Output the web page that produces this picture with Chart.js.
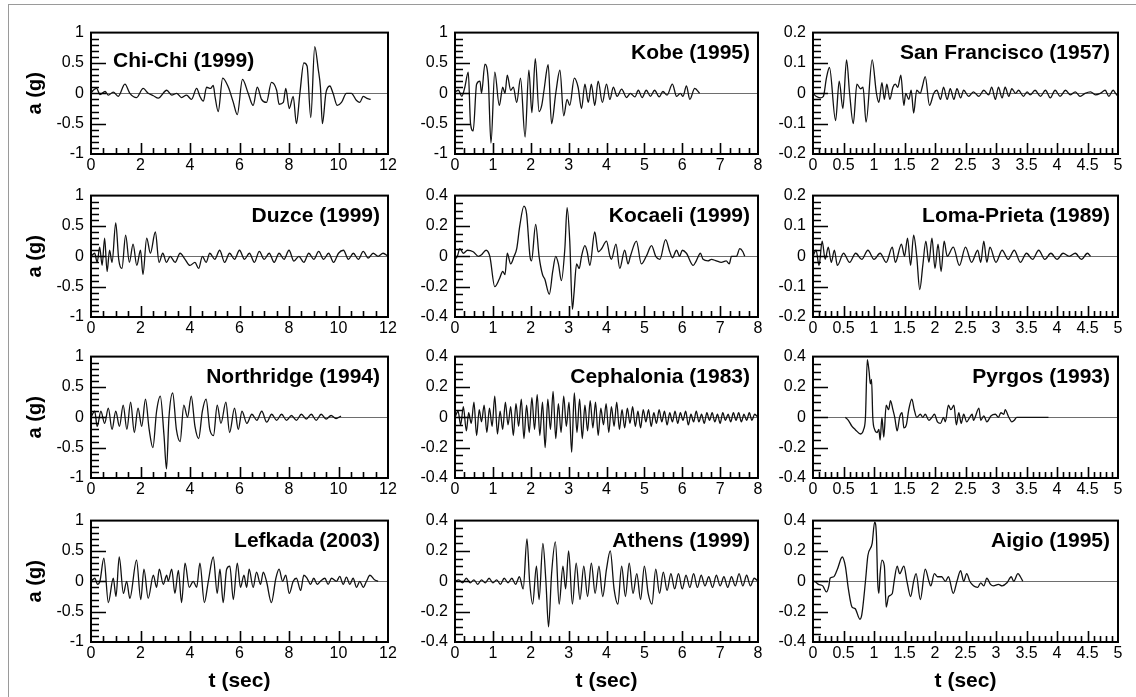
<!DOCTYPE html>
<html>
<head>
<meta charset="utf-8">
<script src="https://cdn.jsdelivr.net/npm/chart.js@4.4.1/dist/chart.umd.min.js"></script>
<style>
  html, body { margin: 0; padding: 0; background: #fff; }
  body { width: 1136px; height: 697px; position: relative; overflow: hidden; }
  #frame { position: absolute; left: 8px; top: 4px; width: 1140px; height: 720px;
           border: 1px solid #9a9a9a; box-sizing: border-box; }
  canvas { position: absolute; }
</style>
</head>
<body>
<div id="frame"></div>
<script>
/* Accelerograms, a (g) against t (sec) as [t, a] pairs */

const chiChi = [[0,0],[0.09,0.05],[0.23,0.08],[0.36,-0.02],[0.57,0.03],[0.7,-0.03],[0.9,0.02],[1.1,-0.05],[1.37,0.15],[1.57,0],[1.84,-0.07],[2.11,0.08],[2.31,0],[2.52,-0.04],[2.72,-0.08],[3.06,0.05],[3.26,-0.03],[3.46,0],[3.66,-0.07],[3.86,-0.03],[4.06,-0.1],[4.27,0.08],[4.4,-0.05],[4.54,-0.13],[4.67,0.1],[4.83,0.08],[4.94,0.13],[5.01,-0.05],[5.14,-0.3],[5.32,0.25],[5.55,0.1],[5.75,-0.15],[5.91,-0.35],[6.12,0.23],[6.35,0],[6.55,-0.2],[6.72,0.1],[6.89,-0.1],[7.09,-0.15],[7.29,0.18],[7.5,0.05],[7.6,-0.18],[7.77,-0.15],[7.87,0.08],[8.01,-0.25],[8.17,-0.05],[8.3,-0.5],[8.44,0],[8.6,0.5],[8.73,0.45],[8.88,-0.4],[9.04,0.77],[9.18,0.4],[9.27,0.1],[9.35,-0.5],[9.49,0],[9.65,0.12],[9.78,0],[9.95,-0.2],[10.12,-0.15],[10.32,0],[10.52,0],[10.73,-0.12],[10.86,-0.15],[11.0,-0.05],[11.13,-0.08],[11.3,-0.1]];

const kobe = [[0,0.02],[0.09,0.05],[0.18,-0.05],[0.26,0.1],[0.35,0.35],[0.41,-0.5],[0.48,-0.62],[0.57,0.15],[0.66,0.2],[0.7,0],[0.79,0.48],[0.88,0.2],[0.95,-0.82],[1.05,0.35],[1.17,-0.2],[1.26,0.1],[1.32,0],[1.38,0.3],[1.47,0.05],[1.54,0.1],[1.63,-0.15],[1.73,0.25],[1.85,-0.72],[1.95,0.38],[2.03,-0.32],[2.12,0.57],[2.22,-0.3],[2.29,-0.2],[2.35,0.05],[2.46,0.47],[2.55,-0.5],[2.66,0],[2.77,0.38],[2.87,-0.37],[2.96,-0.1],[3.03,-0.2],[3.15,0.25],[3.25,0.1],[3.34,-0.25],[3.43,0.15],[3.52,-0.15],[3.6,0.15],[3.69,-0.2],[3.78,0.2],[3.89,-0.15],[4.0,0.15],[4.09,-0.1],[4.18,0.1],[4.28,-0.05],[4.4,0.07],[4.53,-0.07],[4.63,0],[4.75,-0.06],[4.84,0.05],[4.94,-0.07],[5.05,0.05],[5.16,-0.05],[5.27,0.05],[5.39,-0.06],[5.49,0.03],[5.6,-0.03],[5.74,0.15],[5.85,-0.05],[5.95,0],[6.02,-0.05],[6.11,0.12],[6.2,-0.1],[6.33,0.08],[6.46,0]];

const sanFrancisco = [[0,0],[0.05,-0.01],[0.12,-0.015],[0.17,-0.01],[0.22,0.05],[0.27,0.085],[0.37,-0.09],[0.43,0.04],[0.49,-0.05],[0.55,0.11],[0.6,0],[0.66,-0.1],[0.72,0.03],[0.78,0.015],[0.82,0.02],[0.87,-0.095],[0.97,0.11],[1.04,0],[1.08,-0.03],[1.13,0.035],[1.17,-0.02],[1.21,0.03],[1.26,-0.02],[1.31,0.02],[1.35,0.03],[1.39,0.02],[1.44,0.06],[1.49,-0.04],[1.52,0],[1.57,-0.02],[1.61,0.01],[1.65,-0.065],[1.7,0.01],[1.76,0],[1.79,0.02],[1.84,0.055],[1.91,-0.04],[1.98,0],[2.03,0.01],[2.09,-0.02],[2.14,0.02],[2.2,-0.02],[2.25,0.015],[2.31,-0.02],[2.36,0.015],[2.42,-0.015],[2.47,0.01],[2.55,-0.01],[2.63,0.005],[2.72,-0.01],[2.8,0.01],[2.88,-0.005],[2.93,0.02],[2.99,-0.02],[3.04,0.02],[3.1,-0.015],[3.15,0.02],[3.21,-0.01],[3.26,0.015],[3.32,0],[3.37,0.01],[3.45,-0.01],[3.51,0.005],[3.56,-0.005],[3.64,0.01],[3.73,-0.01],[3.81,0.01],[3.89,-0.015],[3.97,0.01],[4.05,-0.01],[4.14,0.01],[4.22,-0.005],[4.3,0.005],[4.38,-0.01],[4.46,0],[4.55,0.005],[4.63,-0.005],[4.71,0],[4.79,0.01],[4.85,-0.01],[4.92,0.01],[4.96,0],[5.0,-0.01]];

const duzce = [[0,0],[0.15,0.05],[0.25,-0.1],[0.35,0.15],[0.45,-0.15],[0.55,0.3],[0.65,-0.25],[0.75,0.1],[0.85,-0.1],[1.0,0.55],[1.12,-0.05],[1.25,-0.2],[1.4,0.35],[1.55,-0.1],[1.7,0.2],[1.85,-0.15],[2.0,0.1],[2.1,-0.3],[2.25,0.3],[2.4,0.05],[2.6,0.4],[2.75,-0.1],[2.9,0.05],[3.05,-0.1],[3.2,0],[3.4,-0.1],[3.6,0.05],[3.8,-0.05],[4.0,-0.15],[4.2,-0.1],[4.35,-0.2],[4.5,0],[4.65,-0.1],[4.8,0.05],[5.0,-0.05],[5.2,0.1],[5.4,-0.1],[5.6,0.05],[5.8,-0.05],[6.0,0.1],[6.2,-0.05],[6.4,0.05],[6.6,-0.1],[6.8,0.08],[7.0,-0.05],[7.2,0.05],[7.4,-0.1],[7.6,0.05],[7.8,-0.05],[8.0,0.1],[8.2,-0.08],[8.4,0],[8.6,-0.1],[8.8,0.05],[9.0,-0.05],[9.2,0.08],[9.4,-0.05],[9.6,0.05],[9.8,-0.1],[10.0,0.05],[10.2,0.1],[10.4,-0.05],[10.6,0.05],[10.8,-0.05],[11.0,0.08],[11.2,-0.03],[11.4,0.05],[11.6,0],[11.8,0.05],[12,0]];

const kocaeli = [[0,-0.02],[0.06,0],[0.13,0.05],[0.22,0.02],[0.33,0.04],[0.48,0.03],[0.62,0],[0.7,0.01],[0.82,0.04],[0.92,0],[1.05,-0.2],[1.17,-0.15],[1.26,-0.1],[1.32,-0.12],[1.38,0.02],[1.47,-0.05],[1.56,0],[1.63,0.05],[1.71,0.2],[1.82,0.33],[1.89,0.28],[1.98,0],[2.02,-0.03],[2.13,0.21],[2.22,0],[2.31,-0.12],[2.37,-0.15],[2.49,-0.25],[2.58,-0.1],[2.66,0],[2.73,-0.05],[2.81,-0.16],[2.9,0.05],[2.96,0.32],[3.03,0.1],[3.1,-0.35],[3.14,-0.25],[3.21,-0.05],[3.28,-0.08],[3.34,0],[3.43,0.07],[3.49,0.03],[3.56,-0.06],[3.69,0.16],[3.78,0.03],[3.87,0.05],[4.0,0.1],[4.09,0],[4.13,-0.02],[4.25,0.08],[4.35,-0.08],[4.48,0.04],[4.57,-0.05],[4.63,0],[4.79,0.1],[4.92,-0.05],[5.05,0],[5.19,0.07],[5.3,0],[5.41,-0.02],[5.56,0.11],[5.67,0.03],[5.74,-0.01],[5.85,0.04],[5.93,0],[6.0,0.04],[6.11,0.02],[6.29,-0.06],[6.37,-0.03],[6.48,0.02],[6.55,-0.02],[6.68,-0.03],[6.77,-0.02],[6.9,-0.03],[7.03,-0.04],[7.16,-0.03],[7.24,-0.05],[7.3,0],[7.43,0],[7.52,0.05],[7.6,0.03],[7.65,0]];

const lomaPrieta = [[0,0],[0.05,0.02],[0.1,-0.03],[0.15,0.05],[0.2,-0.01],[0.25,0.03],[0.3,-0.02],[0.35,0.02],[0.4,-0.03],[0.5,0.01],[0.6,-0.02],[0.7,0.01],[0.8,-0.01],[0.9,0.02],[1.0,-0.01],[1.1,0.01],[1.2,-0.02],[1.3,0.03],[1.35,-0.02],[1.45,0.04],[1.5,0],[1.55,0.06],[1.6,-0.03],[1.65,0.07],[1.7,0],[1.75,-0.11],[1.8,-0.03],[1.85,0.05],[1.9,-0.02],[1.95,0.06],[2.0,-0.04],[2.05,0.04],[2.1,-0.05],[2.15,0.05],[2.2,0],[2.3,0.03],[2.4,-0.03],[2.5,0.03],[2.6,-0.02],[2.7,0.02],[2.75,-0.02],[2.8,0.05],[2.85,-0.02],[2.9,0.03],[3.0,-0.02],[3.1,0.02],[3.2,-0.01],[3.3,0.02],[3.4,-0.02],[3.5,0.01],[3.6,-0.01],[3.7,0.02],[3.8,-0.01],[3.9,0.01],[4.0,-0.01],[4.1,0.01],[4.2,0],[4.3,0.01],[4.4,-0.01],[4.5,0.01],[4.55,0]];

const northridge = [[0,0],[0.15,0.1],[0.25,-0.15],[0.4,0.1],[0.55,-0.1],[0.7,0.15],[0.85,-0.2],[1.0,0.1],[1.15,-0.15],[1.3,0.2],[1.45,-0.2],[1.6,0.25],[1.75,-0.25],[1.9,0.15],[2.05,-0.15],[2.2,0.3],[2.35,-0.2],[2.5,-0.5],[2.65,0.1],[2.8,0.35],[2.95,-0.3],[3.05,-0.85],[3.15,0],[3.3,0.4],[3.45,-0.2],[3.6,-0.4],[3.75,0.2],[3.9,0],[4.05,0.35],[4.2,-0.15],[4.35,-0.35],[4.5,0.1],[4.65,0.3],[4.8,-0.2],[4.95,-0.3],[5.1,0.2],[5.25,-0.1],[5.45,0.25],[5.6,-0.25],[5.8,0.15],[5.95,-0.2],[6.1,0.1],[6.3,-0.1],[6.5,0.05],[6.7,-0.05],[6.9,0.1],[7.1,-0.08],[7.3,0.05],[7.5,-0.05],[7.7,0.05],[7.9,-0.05],[8.1,0.03],[8.3,-0.05],[8.5,0.05],[8.7,-0.03],[8.9,0.05],[9.1,-0.05],[9.3,0.05],[9.5,-0.03],[9.7,0.03],[9.9,-0.02],[10.1,0.02]];

const cephalonia = [[0,0],[0.08,0.04],[0.15,-0.05],[0.22,0.07],[0.3,-0.09],[0.36,0.03],[0.43,-0.04],[0.5,0.1],[0.57,-0.12],[0.64,0.05],[0.7,-0.03],[0.77,0.08],[0.84,-0.1],[0.91,0.06],[0.98,-0.06],[1.05,0.14],[1.12,-0.11],[1.19,0.04],[1.26,-0.08],[1.33,0.1],[1.4,-0.05],[1.47,0.07],[1.54,-0.12],[1.61,0.09],[1.68,-0.06],[1.75,0.12],[1.82,-0.14],[1.89,0.08],[1.96,-0.1],[2.03,0.13],[2.1,-0.08],[2.17,0.15],[2.24,-0.12],[2.31,0.1],[2.38,-0.2],[2.45,0.12],[2.52,-0.08],[2.59,0.17],[2.66,-0.14],[2.73,0.09],[2.8,-0.1],[2.87,0.14],[2.94,-0.06],[3.01,0.1],[3.08,-0.23],[3.15,0.16],[3.22,-0.1],[3.29,0.12],[3.36,-0.14],[3.43,0.08],[3.5,-0.09],[3.57,0.11],[3.64,-0.07],[3.71,0.1],[3.78,-0.12],[3.85,0.06],[3.92,-0.05],[3.99,0.09],[4.06,-0.1],[4.13,0.07],[4.2,-0.06],[4.27,0.1],[4.34,-0.08],[4.41,0.05],[4.48,-0.07],[4.55,0.06],[4.62,-0.04],[4.69,0.07],[4.76,-0.06],[4.83,0.04],[4.9,-0.07],[4.97,0.05],[5.04,-0.03],[5.11,0.05],[5.18,-0.06],[5.25,0.03],[5.32,-0.04],[5.39,0.05],[5.46,-0.03],[5.53,0.04],[5.6,-0.05],[5.67,0.03],[5.74,-0.03],[5.81,0.04],[5.88,-0.04],[5.95,0.03],[6.02,-0.02],[6.09,0.04],[6.16,-0.05],[6.23,0.02],[6.3,-0.03],[6.37,0.04],[6.44,-0.03],[6.51,0.02],[6.58,-0.04],[6.65,0.03],[6.72,-0.02],[6.79,0.03],[6.86,-0.03],[6.93,0.02],[7.0,-0.04],[7.07,0.03],[7.14,-0.02],[7.21,0.02],[7.28,-0.03],[7.35,0.03],[7.42,-0.02],[7.49,0.03],[7.56,-0.03],[7.63,0.02],[7.7,-0.02],[7.77,0.03],[7.84,-0.02],[7.91,0.02],[8.0,0]];

const pyrgos = [[0.53,0],[0.58,-0.02],[0.64,-0.06],[0.69,-0.08],[0.78,-0.11],[0.83,-0.08],[0.86,0],[0.89,0.38],[0.92,0.3],[0.94,0.22],[0.96,0.25],[0.98,0],[1.01,-0.08],[1.05,-0.1],[1.08,-0.08],[1.1,-0.15],[1.13,0],[1.16,-0.13],[1.2,0.08],[1.24,0.05],[1.27,0.11],[1.31,0.05],[1.34,0],[1.38,-0.09],[1.42,0],[1.46,0.03],[1.49,-0.07],[1.53,-0.05],[1.57,0.05],[1.62,0.12],[1.66,0.05],[1.7,0],[1.76,0.02],[1.8,0],[1.84,0.02],[1.9,-0.02],[1.95,0],[1.99,0.02],[2.04,-0.03],[2.09,-0.04],[2.14,0],[2.17,-0.03],[2.22,0.08],[2.26,0.05],[2.31,0.08],[2.35,-0.05],[2.39,0.03],[2.43,-0.04],[2.47,0.02],[2.52,-0.03],[2.57,0],[2.61,0.02],[2.63,-0.02],[2.72,0.06],[2.75,-0.02],[2.8,0.01],[2.85,-0.03],[2.92,0.01],[2.99,0.02],[3.04,0],[3.08,0.03],[3.13,0.02],[3.15,0.05],[3.21,0],[3.26,-0.03],[3.3,-0.02],[3.34,0],[3.37,0],[3.86,0]];

const lefkada = [[0,0],[0.16,0.05],[0.26,-0.05],[0.36,0],[0.52,0.38],[0.7,-0.35],[0.9,0.05],[1.01,-0.25],[1.14,0.4],[1.31,-0.2],[1.44,0],[1.57,-0.28],[1.84,0.35],[2.01,-0.3],[2.14,0.2],[2.31,-0.28],[2.52,0.1],[2.65,-0.1],[2.76,0.2],[2.92,-0.05],[3.06,0.1],[3.12,0],[3.26,0.2],[3.39,-0.2],[3.53,0.18],[3.66,-0.35],[3.8,0.3],[3.97,-0.1],[4.13,0],[4.27,-0.1],[4.4,0.3],[4.58,-0.35],[4.74,0],[4.94,0.4],[5.1,-0.2],[5.21,0.2],[5.34,-0.35],[5.48,0.2],[5.61,0.25],[5.75,-0.3],[5.91,0.3],[6.04,-0.1],[6.18,0.1],[6.29,-0.1],[6.39,0.2],[6.55,-0.1],[6.69,0.15],[6.85,-0.05],[6.96,0.15],[7.09,0],[7.29,-0.35],[7.47,0.05],[7.6,0.2],[7.74,0],[7.87,0.1],[8.01,-0.2],[8.17,0],[8.3,0.05],[8.47,-0.15],[8.6,0.1],[8.73,0.05],[8.87,-0.05],[9.0,0.05],[9.14,-0.05],[9.27,0],[9.45,0.05],[9.58,-0.05],[9.72,0.05],[9.92,0],[10.05,0.08],[10.19,-0.05],[10.32,0.07],[10.46,-0.05],[10.59,0.05],[10.73,-0.1],[10.86,0],[11.0,-0.1],[11.13,0],[11.27,0.1],[11.47,0.02],[11.6,0]];

const athens = [[0,0],[0.1,0.01],[0.2,-0.01],[0.3,0.02],[0.4,-0.01],[0.5,0.01],[0.6,-0.02],[0.7,0.01],[0.8,-0.01],[0.9,0.02],[1.0,-0.01],[1.1,0.01],[1.2,-0.02],[1.3,0.02],[1.4,-0.01],[1.5,0.02],[1.6,-0.02],[1.7,0.03],[1.8,-0.05],[1.9,0.28],[1.97,0],[2.05,-0.15],[2.15,0.1],[2.22,-0.12],[2.32,0.25],[2.4,0],[2.47,-0.3],[2.55,0.05],[2.65,0.26],[2.75,-0.15],[2.85,0.1],[2.92,-0.05],[3.0,0.2],[3.1,-0.15],[3.2,0.12],[3.3,-0.12],[3.4,0.1],[3.5,-0.1],[3.6,0.12],[3.7,-0.08],[3.8,0.1],[3.9,-0.1],[4.0,0.08],[4.1,0.2],[4.2,-0.05],[4.3,-0.15],[4.4,0.1],[4.5,-0.1],[4.6,0.12],[4.7,-0.08],[4.8,0.05],[4.9,-0.12],[5.0,0.1],[5.1,-0.08],[5.2,-0.15],[5.3,0.08],[5.4,-0.08],[5.5,0.06],[5.6,-0.06],[5.7,0.05],[5.8,-0.05],[5.9,0.05],[6.0,-0.05],[6.1,0.04],[6.2,-0.04],[6.3,0.05],[6.4,-0.04],[6.5,0.04],[6.6,-0.03],[6.7,0.03],[6.8,-0.04],[6.9,0.04],[7.0,-0.03],[7.1,0.03],[7.2,-0.04],[7.3,0.03],[7.4,-0.03],[7.5,0.05],[7.6,-0.03],[7.7,0.04],[7.8,-0.03],[7.9,0.02],[8.0,0]];

const aigio = [[0,0],[0.02,0],[0.09,-0.02],[0.16,-0.03],[0.22,-0.07],[0.26,-0.03],[0.28,0.02],[0.34,0.03],[0.4,0.08],[0.48,0.16],[0.53,0.1],[0.58,-0.05],[0.64,-0.17],[0.69,-0.18],[0.77,-0.25],[0.8,-0.22],[0.86,0],[0.9,0.17],[0.97,0.25],[1.01,0.39],[1.04,0.3],[1.06,0],[1.08,-0.08],[1.1,0.05],[1.13,0.14],[1.17,0.1],[1.2,-0.17],[1.24,-0.1],[1.3,-0.08],[1.33,0],[1.38,0.1],[1.42,0.05],[1.49,0.1],[1.54,0],[1.6,-0.1],[1.65,0],[1.69,0.05],[1.76,-0.12],[1.84,0.08],[1.9,0],[1.93,-0.03],[1.99,0.05],[2.04,0.03],[2.11,0.03],[2.17,0],[2.22,0.03],[2.3,-0.08],[2.36,0],[2.42,0.07],[2.47,0],[2.52,0.05],[2.57,0],[2.63,-0.03],[2.7,-0.04],[2.75,-0.01],[2.8,-0.03],[2.85,0.02],[2.91,-0.02],[2.96,-0.03],[3.04,-0.02],[3.1,-0.03],[3.18,-0.01],[3.25,0.03],[3.29,0],[3.36,0.05],[3.4,0.03],[3.44,0]];

const records = [chiChi, kobe, sanFrancisco, duzce, kocaeli, lomaPrieta, northridge, cephalonia, pyrgos, lefkada, athens, aigio];
const titles = ['Chi-Chi (1999)', 'Kobe (1995)', 'San Francisco (1957)',
                'Duzce (1999)', 'Kocaeli (1999)', 'Loma-Prieta (1989)',
                'Northridge (1994)', 'Cephalonia (1983)', 'Pyrgos (1993)',
                'Lefkada (2003)', 'Athens (1999)', 'Aigio (1995)'];
const yLimits = [1, 1, 0.2, 1, 0.4, 0.2, 1, 0.4, 0.4, 1, 0.4, 0.4];
const xLimits = [12, 8, 5];

// ── layout of the 4 x 3 grid (plot areas, px) ──────────────
const colLeft = [91, 455, 813];
const colWidth = [297, 303, 305];
const rowTop = [32, 195, 356, 520];
const plotH = 122;
const padL = 90, padT = 16, padR = 22;

// tick spacing: [label step, major mark, minor mark]
const xTickSpec = { 12: [2, 2, 0.5], 8: [1, 1, 0.25], 5: [0.5, 0.5, 0.1] };
const yTickSpec = { 1: [0.5, 0.5, 0.1], 0.4: [0.2, 0.2, 0.05], 0.2: [0.1, 0.1, 0.02] };

const FONT = '"Liberation Sans", Arial, Helvetica, sans-serif';
Chart.defaults.font.family = FONT;
Chart.defaults.color = '#000';

const fmt = (v) => String(+Number(v).toFixed(3));

// inward tick marks, black frame and in-plot title
const panelDeco = {
  id: 'panelDeco',
  afterDatasetsDraw(chart, args, opts) {
    const { ctx, chartArea: a, scales: { x, y } } = chart;
    ctx.save();
    ctx.strokeStyle = '#000';
    ctx.lineWidth = 1.6;
    ctx.beginPath();
    const [, xMajor, xMinor] = opts.xSpec;
    const nx = Math.round(opts.xMax / xMinor);
    for (let i = 1; i < nx; i++) {
      const v = i * xMinor;
      const r = v / xMajor;
      const len = Math.abs(r - Math.round(r)) < 1e-6 ? 11 : 6;
      const px = Math.round(x.getPixelForValue(v)) + 0.5;
      ctx.moveTo(px, a.bottom);
      ctx.lineTo(px, a.bottom - len);
    }
    const [, yMajor, yMinor] = opts.ySpec;
    const ny = Math.round(2 * opts.yMax / yMinor);
    for (let i = 1; i < ny; i++) {
      const v = -opts.yMax + i * yMinor;
      const r = v / yMajor;
      const len = Math.abs(r - Math.round(r)) < 1e-6 ? 15 : 8;
      const py = Math.round(y.getPixelForValue(v)) + 0.5;
      ctx.moveTo(a.left, py);
      ctx.lineTo(a.left + len, py);
    }
    ctx.stroke();

    ctx.lineWidth = 2;
    ctx.strokeRect(a.left, a.top, a.width, a.height);

    ctx.fillStyle = '#000';
    ctx.font = 'bold 21px ' + FONT;
    ctx.textBaseline = 'middle';
    if (opts.titleAlign === 'left') {
      ctx.textAlign = 'left';
      ctx.fillText(opts.title, a.left + 22, a.top + opts.titleDy);
    } else {
      ctx.textAlign = 'right';
      ctx.fillText(opts.title, a.right - 8, a.top + opts.titleDy);
    }
    ctx.restore();
  }
};

records.forEach((rec, i) => {
  const row = Math.floor(i / 3), col = i % 3;
  const lastRow = row === 3;
  const padB = lastRow ? 54 : 40;
  const xMax = xLimits[col], yMax = yLimits[i];
  const xSpec = xTickSpec[xMax], ySpec = yTickSpec[yMax];

  const cv = document.createElement('canvas');
  const w = padL + colWidth[col] + padR, h = padT + plotH + padB;
  cv.width = w; cv.height = h;
  cv.style.left = (colLeft[col] - padL) + 'px';
  cv.style.top = (rowTop[row] - padT) + 'px';
  cv.style.width = w + 'px'; cv.style.height = h + 'px';
  document.body.appendChild(cv);

  new Chart(cv, {
    type: 'line',
    data: {
      datasets: [{
        data: rec.map(([t, a]) => ({ x: t, y: a })),
        borderColor: '#111',
        borderWidth: 1.3,
        pointRadius: 0,
        cubicInterpolationMode: 'monotone',
        fill: false
      }]
    },
    options: {
      responsive: false,
      animation: false,
      events: [],
      layout: { padding: { left: 0, top: padT, right: padR, bottom: 0 } },
      scales: {
        x: {
          type: 'linear',
          min: 0, max: xMax,
          afterFit: (s) => { s.height = padB; },
          grid: { display: false, drawTicks: false },
          border: { display: false },
          ticks: { stepSize: xSpec[0], autoSkip: false, maxRotation: 0, padding: 2,
                   font: { size: 16 }, color: '#000', callback: fmt },
          title: { display: lastRow, text: 't (sec)', color: '#000',
                   font: { size: 21, weight: 'bold' }, padding: { top: 0, bottom: 2 } }
        },
        y: {
          type: 'linear',
          min: -yMax, max: yMax,
          afterFit: (s) => { s.width = padL; },
          grid: {
            drawTicks: false,
            color: (c) => (c.tick && Math.abs(c.tick.value) < 1e-9 ? '#6e6e6e' : 'rgba(0,0,0,0)'),
            lineWidth: 1
          },
          border: { display: false },
          ticks: { stepSize: ySpec[0], autoSkip: false, padding: 7,
                   font: { size: 16 }, color: '#000', callback: fmt },
          title: { display: col === 0, text: 'a (g)', color: '#000',
                   font: { size: 20, weight: 'bold' }, padding: { top: 22, bottom: 0 } }
        }
      },
      plugins: {
        legend: { display: false },
        tooltip: { enabled: false },
        panelDeco: {
          xMax, yMax, xSpec, ySpec,
          title: titles[i],
          titleAlign: i === 0 ? 'left' : 'right',
          titleDy: i === 0 ? 29 : 21
        }
      }
    },
    plugins: [panelDeco]
  });
});
</script>
</body>
</html>
